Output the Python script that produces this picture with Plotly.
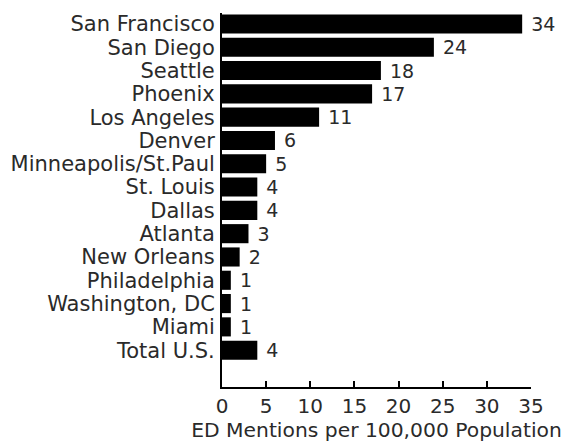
import plotly.graph_objects as go

cities = ["San Francisco", "San Diego", "Seattle", "Phoenix", "Los Angeles",
          "Denver", "Minneapolis/St.Paul", "St. Louis", "Dallas", "Atlanta",
          "New Orleans", "Philadelphia", "Washington, DC", "Miami", "Total U.S."]
mentions = [34, 24, 18, 17, 11, 6, 5, 4, 4, 3, 2, 1, 1, 1, 4]
x_ticks = [0, 5, 10, 15, 20, 25, 30, 35]

pos = list(range(len(cities)))
font = "DejaVu Sans, Verdana, sans-serif"
ink = "#2a2a2a"

fig = go.Figure(go.Bar(
    x=mentions,
    y=pos,
    orientation="h",
    width=0.82,
    marker=dict(color="black", line=dict(width=0)),
    text=[" " + str(v) for v in mentions],
    textposition="outside",
    constraintext="none",
    cliponaxis=False,
    textfont=dict(family=font, size=19, color=ink),
))

fig.update_layout(
    width=567, height=447,
    margin=dict(l=222, r=36, t=13, b=60, autoexpand=False),
    plot_bgcolor="white", paper_bgcolor="white",
    showlegend=False,
    font=dict(family=font, color=ink),
)

fig.update_xaxes(
    range=[0, 35], tickvals=x_ticks, automargin=False,
    showgrid=False, zeroline=False,
    showline=True, linecolor="black", linewidth=2,
    ticks="inside", ticklen=6, tickwidth=2, tickcolor="black",
    tickfont=dict(size=20), ticklabelstandoff=0,
    title=dict(text="ED Mentions per 100,000 Population", font=dict(size=20.3), standoff=5),
)
fig.update_yaxes(
    range=[15.58, -0.47], tickvals=pos, ticktext=cities, automargin=False,
    showgrid=False, zeroline=False,
    showline=True, linecolor="black", linewidth=2,
    ticks="", tickfont=dict(size=21), ticklabelstandoff=1,
)

# the page has a default body margin; drop it so the figure sits at 0,0
fig.write_html("out.html", config={"displayModeBar": False},
               post_script="document.body.style.margin='0';")
